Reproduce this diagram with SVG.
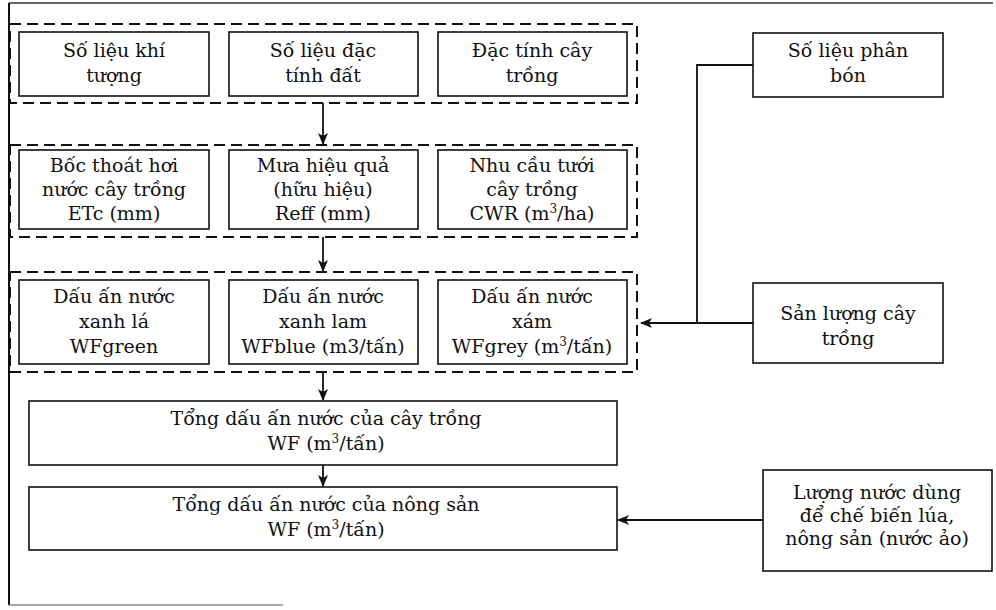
<svg xmlns="http://www.w3.org/2000/svg" width="996" height="610" viewBox="0 0 996 610">
<style>
.box{fill:#fff;stroke:#111;stroke-width:1.6}
.grp{fill:none;stroke:#111;stroke-width:2;stroke-dasharray:11 6}
.t{font-family:"DejaVu Serif","Liberation Serif",serif;font-size:19px;fill:#111;text-anchor:middle}
.sup{font-size:12px}
.ln{fill:none;stroke:#111;stroke-width:1.8}
</style>
<defs>
<marker id="ah" viewBox="0 0 12 10" refX="11" refY="5" markerWidth="12" markerHeight="10" markerUnits="userSpaceOnUse" orient="auto">
<path d="M0,0 L12,5 L0,10 L3,5 Z" fill="#111"/>
</marker>
</defs>
<rect width="996" height="610" fill="#fff"/>
<g id="frame">
<path d="M9,3 L993,3" stroke="#333" stroke-width="1.5" fill="none"/>
<path d="M9,3 L9,605" stroke="#111" stroke-width="2" fill="none"/>
<path d="M9,605 L283,605" stroke="#888" stroke-width="1.5" fill="none"/>
</g>
<g id="group-inputs"><rect class="grp" x="10" y="24" width="627" height="79"/></g>
<g id="group-calc"><rect class="grp" x="10" y="145" width="627" height="92"/></g>
<g id="group-wf"><rect class="grp" x="10" y="272" width="627" height="100"/></g>
<g id="connectors">
<path class="ln" d="M323,103 L323,144" marker-end="url(#ah)"/>
<path class="ln" d="M323,237 L323,271" marker-end="url(#ah)"/>
<path class="ln" d="M323,372 L323,400" marker-end="url(#ah)"/>
<path class="ln" d="M323,465 L323,486" marker-end="url(#ah)"/>
<path class="ln" d="M753,65 L697,65 L697,323"/>
<path class="ln" d="M753,323 L641,323" marker-end="url(#ah)"/>
<path class="ln" d="M763,520 L618,520" marker-end="url(#ah)"/>
</g>
<g id="n-khituong"><rect class="box" x="19" y="32" width="190" height="64"/>
<text class="t" x="114" y="57">Số liệu khí</text><text class="t" x="114" y="82">tượng</text></g>
<g id="n-dat"><rect class="box" x="229" y="32" width="189" height="64"/>
<text class="t" x="323" y="57">Số liệu đặc</text><text class="t" x="323" y="82">tính đất</text></g>
<g id="n-caytrong"><rect class="box" x="438" y="32" width="189" height="64"/>
<text class="t" x="532" y="57">Đặc tính cây</text><text class="t" x="532" y="82">trồng</text></g>
<g id="n-phanbon"><rect class="box" x="753" y="33" width="190" height="64"/>
<text class="t" x="848" y="57">Số liệu phân</text><text class="t" x="848" y="82">bón</text></g>
<g id="n-etc"><rect class="box" x="19" y="150" width="190" height="79"/>
<text class="t" x="114" y="172">Bốc thoát hơi</text><text class="t" x="114" y="196">nước cây trồng</text><text class="t" x="114" y="220">ETc (mm)</text></g>
<g id="n-reff"><rect class="box" x="229" y="150" width="189" height="79"/>
<text class="t" x="323" y="172">Mưa hiệu quả</text><text class="t" x="323" y="196">(hữu hiệu)</text><text class="t" x="323" y="220">Reff (mm)</text></g>
<g id="n-cwr"><rect class="box" x="438" y="150" width="189" height="79"/>
<text class="t" x="532" y="172">Nhu cầu tưới</text><text class="t" x="532" y="196">cây trồng</text><text class="t" x="532" y="220">CWR (m<tspan class="sup" baseline-shift="super">3</tspan>/ha)</text></g>
<g id="n-green"><rect class="box" x="19" y="280" width="190" height="84"/>
<text class="t" x="114" y="303">Dấu ấn nước</text><text class="t" x="114" y="328">xanh lá</text><text class="t" x="114" y="353">WFgreen</text></g>
<g id="n-blue"><rect class="box" x="229" y="280" width="189" height="84"/>
<text class="t" x="323" y="303">Dấu ấn nước</text><text class="t" x="323" y="328">xanh lam</text><text class="t" x="323" y="353">WFblue (m3/tấn)</text></g>
<g id="n-grey"><rect class="box" x="438" y="280" width="189" height="84"/>
<text class="t" x="532" y="303">Dấu ấn nước</text><text class="t" x="532" y="328">xám</text><text class="t" x="532" y="353">WFgrey (m<tspan class="sup" baseline-shift="super">3</tspan>/tấn)</text></g>
<g id="n-sanluong"><rect class="box" x="753" y="283" width="190" height="80"/>
<text class="t" x="848" y="320">Sản lượng cây</text><text class="t" x="848" y="345">trồng</text></g>
<g id="n-tong-cay"><rect class="box" x="29" y="401" width="588" height="64"/>
<text class="t" x="326" y="425">Tổng dấu ấn nước của cây trồng</text><text class="t" x="326" y="450">WF (m<tspan class="sup" baseline-shift="super">3</tspan>/tấn)</text></g>
<g id="n-tong-nong"><rect class="box" x="29" y="487" width="588" height="63"/>
<text class="t" x="326" y="511">Tổng dấu ấn nước của nông sản</text><text class="t" x="326" y="536">WF (m<tspan class="sup" baseline-shift="super">3</tspan>/tấn)</text></g>
<g id="n-luongnuoc"><rect class="box" x="763" y="470" width="229" height="101"/>
<text class="t" x="877" y="499">Lượng nước dùng</text><text class="t" x="877" y="522">để chế biến lúa,</text><text class="t" x="877" y="545">nông sản (nước ảo)</text></g>
</svg>
